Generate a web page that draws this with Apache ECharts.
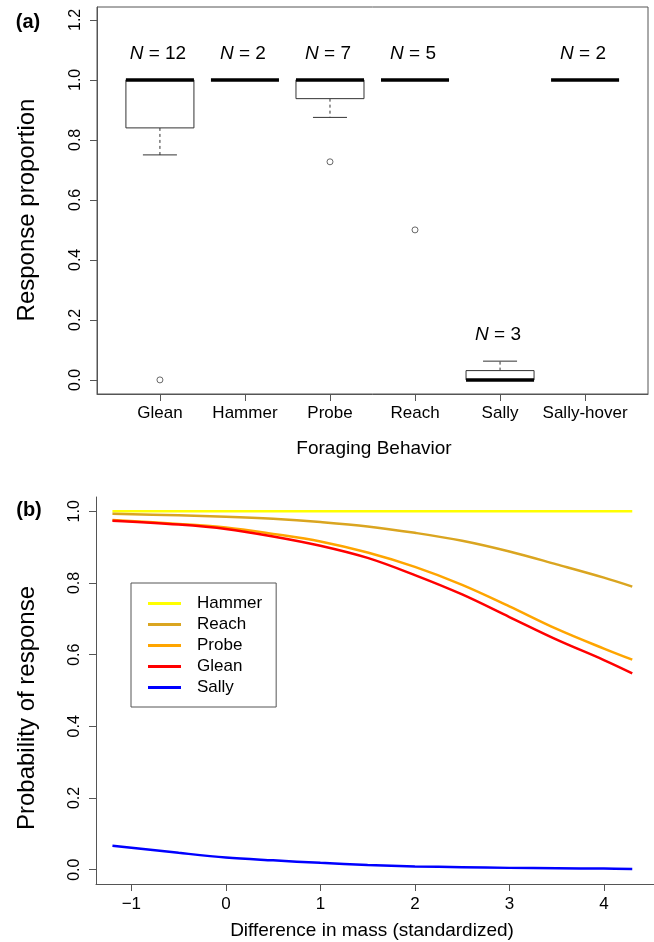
<!DOCTYPE html>
<html>
<head>
<meta charset="utf-8">
<script src="https://cdn.jsdelivr.net/npm/echarts@6/dist/echarts.min.js"></script>
<style>
html,body{margin:0;padding:0;background:#fff;}
#chart{width:654px;height:942px;}
</style>
</head>
<body>
<div id="chart"></div>
<script>
// ---------- Panel (a): box plots ----------
const categories = ['Glean', 'Hammer', 'Probe', 'Reach', 'Sally', 'Sally-hover'];
const whiskerLow = [0.75, 1, 0.875, 1, 0, 1];
const boxLow = [0.84, 1, 0.9375, 1, 0, 1];
const medians = [1, 1, 1, 1, 0, 1];
const boxHigh = [1, 1, 1, 1, 0.031, 1];
const whiskerHigh = [1, 1, 1, 1, 0.0625, 1];
const sampleSizes = [12, 2, 7, 5, 3, 2];
const outlierCategory = ['Glean', 'Probe', 'Reach'];
const outlierValue = [0, 0.727, 0.5];
const ticksA = [0, 0.2, 0.4, 0.6, 0.8, 1.0, 1.2];

// ---------- Panel (b): fitted curves ----------
const massDiff = [-1.2, -0.5, 0, 0.5, 1, 1.5, 2, 2.5, 3, 3.5, 4, 4.3];
const hammer = [1, 1, 1, 1, 1, 1, 1, 1, 1, 1, 1, 1];
const reach = [0.993, 0.989, 0.985, 0.979, 0.970, 0.958, 0.940, 0.918, 0.888, 0.852, 0.815, 0.790];
const probe = [0.976, 0.965, 0.955, 0.937, 0.916, 0.885, 0.845, 0.795, 0.735, 0.672, 0.617, 0.586];
const glean = [0.974, 0.963, 0.951, 0.930, 0.904, 0.870, 0.822, 0.768, 0.705, 0.642, 0.585, 0.548];
const sally = [0.067, 0.047, 0.034, 0.026, 0.019, 0.013, 0.009, 0.007, 0.005, 0.004, 0.003, 0.002];
const ticksBx = [-1, 0, 1, 2, 3, 4];
const ticksBy = [0, 0.2, 0.4, 0.6, 0.8, 1.0];

const FONT = '"Liberation Sans", Arial, Helvetica, sans-serif';

const boxData = categories.map((c, i) => [i + 1, whiskerLow[i], boxLow[i], medians[i], boxHigh[i], whiskerHigh[i], sampleSizes[i]]);
const outlierData = outlierCategory.map((c, i) => [categories.indexOf(c) + 1, outlierValue[i]]);

function renderBox(params, api) {
  const x = api.value(0);
  const lo = api.value(1), q1 = api.value(2), med = api.value(3), q3 = api.value(4), hi = api.value(5), n = api.value(6);
  const bw = api.size([0.8, 0])[0];
  const cx = api.coord([x, 0])[0];
  const y = v => api.coord([x, v])[1];
  const children = [];
  const lineStyle = {stroke: '#333', lineWidth: 1, fill: null};
  if (lo < q1) {
    children.push({type: 'line', shape: {x1: cx, y1: y(q1), x2: cx, y2: y(lo)}, style: Object.assign({}, lineStyle, {lineDash: [3, 3]})});
    children.push({type: 'line', shape: {x1: cx - bw / 4, y1: y(lo), x2: cx + bw / 4, y2: y(lo)}, style: lineStyle});
  }
  if (hi > q3) {
    children.push({type: 'line', shape: {x1: cx, y1: y(q3), x2: cx, y2: y(hi)}, style: Object.assign({}, lineStyle, {lineDash: [3, 3]})});
    children.push({type: 'line', shape: {x1: cx - bw / 4, y1: y(hi), x2: cx + bw / 4, y2: y(hi)}, style: lineStyle});
  }
  if (q3 > q1) {
    children.push({type: 'rect', shape: {x: cx - bw / 2, y: y(q3), width: bw, height: y(q1) - y(q3)}, style: {fill: '#fff', stroke: '#333', lineWidth: 1}});
  }
  children.push({type: 'line', shape: {x1: cx - bw / 2, y1: y(med), x2: cx + bw / 2, y2: y(med)}, style: {stroke: '#000', lineWidth: 3.5}});
  children.push({type: 'text', x: cx - 2, y: y(hi) - 26, style: {
    text: '{i|N} = ' + n,
    rich: {i: {fontStyle: 'italic', fontSize: 19, fontFamily: FONT, fill: '#000'}},
    fontSize: 19, fontFamily: FONT, fill: '#000',
    align: 'center', verticalAlign: 'middle'
  }});
  return {type: 'group', children: children};
}

const chart = echarts.init(document.getElementById('chart'), null, {renderer: 'canvas'});
const option = {
  animation: false,
  backgroundColor: '#fff',
  textStyle: {fontFamily: FONT},
  grid: [
    {left: 97, top: 7, width: 551, height: 387, show: true, borderColor: '#555', borderWidth: 1, backgroundColor: 'transparent'},
    {left: 96, top: 497, right: 0, height: 387}
  ],
  xAxis: [
    {type: 'value', gridIndex: 0, min: 0.26, max: 6.74, position: 'bottom',
      splitLine: {show: false}, axisLine: {show: true, onZero: false, lineStyle: {color: '#555'}},
      axisTick: {show: true, inside: false, length: 7, lineStyle: {color: '#555'}, customValues: [1, 2, 3, 4, 5, 6]},
      axisLabel: {customValues: [1, 2, 3, 4, 5, 6], formatter: v => categories[Math.round(v) - 1] || '', fontSize: 17, color: '#000', margin: 11, fontFamily: FONT}
    },
    {type: 'value', gridIndex: 1, min: -1.374, max: 4.53, position: 'bottom',
      splitLine: {show: false}, axisLine: {show: true, onZero: false, lineStyle: {color: '#555'}},
      axisTick: {show: true, length: 7, lineStyle: {color: '#555'}, customValues: ticksBx},
      axisLabel: {customValues: ticksBx, formatter: v => (v < 0 ? '\u2212' + Math.abs(v) : String(v)), fontSize: 17, color: '#000', margin: 12, fontFamily: FONT}
    }
  ],
  yAxis: [
    {type: 'value', gridIndex: 0, min: -0.047, max: 1.243, position: 'left',
      splitLine: {show: false}, axisLine: {show: true, onZero: false, lineStyle: {color: '#555'}},
      axisTick: {show: true, length: 7, lineStyle: {color: '#555'}, customValues: ticksA},
      axisLabel: {customValues: ticksA, formatter: v => v.toFixed(1), rotate: 90, fontSize: 16, color: '#000', margin: 13, fontFamily: FONT}
    },
    {type: 'value', gridIndex: 1, min: -0.04, max: 1.04, position: 'left',
      splitLine: {show: false}, axisLine: {show: true, onZero: false, lineStyle: {color: '#555'}},
      axisTick: {show: true, length: 7, lineStyle: {color: '#555'}, customValues: ticksBy},
      axisLabel: {customValues: ticksBy, formatter: v => v.toFixed(1), rotate: 90, fontSize: 16, color: '#000', margin: 13, fontFamily: FONT}
    }
  ],
  legend: {
    data: ['Hammer', 'Reach', 'Probe', 'Glean', 'Sally'],
    orient: 'vertical', left: 131, top: 583,
    padding: [12, 14, 11, 17],
    itemGap: 4, itemWidth: 33, itemHeight: 3, icon: 'rect',
    borderColor: '#555', borderWidth: 1, backgroundColor: '#fff',
    selectedMode: false,
    textStyle: {fontSize: 17, lineHeight: 17, color: '#000', fontFamily: FONT, padding: [0, 0, 0, 11]}
  },
  series: [
    {type: 'custom', name: 'box', xAxisIndex: 0, yAxisIndex: 0, data: boxData, renderItem: renderBox, silent: true, z: 3},
    {type: 'scatter', name: 'outliers', xAxisIndex: 0, yAxisIndex: 0, data: outlierData, symbol: 'circle', symbolSize: 6,
      itemStyle: {color: '#fff', borderColor: '#444', borderWidth: 1}, silent: true, z: 4},
    {type: 'line', name: 'Hammer', xAxisIndex: 1, yAxisIndex: 1, data: massDiff.map((x, i) => [x, hammer[i]]), showSymbol: false, smooth: 0.35, color: '#ffff00', lineStyle: {width: 2.5, color: '#ffff00'}},
    {type: 'line', name: 'Reach', xAxisIndex: 1, yAxisIndex: 1, data: massDiff.map((x, i) => [x, reach[i]]), showSymbol: false, smooth: 0.35, color: '#daa520', lineStyle: {width: 2.5, color: '#daa520'}},
    {type: 'line', name: 'Probe', xAxisIndex: 1, yAxisIndex: 1, data: massDiff.map((x, i) => [x, probe[i]]), showSymbol: false, smooth: 0.35, color: '#ffa500', lineStyle: {width: 2.5, color: '#ffa500'}},
    {type: 'line', name: 'Glean', xAxisIndex: 1, yAxisIndex: 1, data: massDiff.map((x, i) => [x, glean[i]]), showSymbol: false, smooth: 0.35, color: '#ff0000', lineStyle: {width: 2.5, color: '#ff0000'}},
    {type: 'line', name: 'Sally', xAxisIndex: 1, yAxisIndex: 1, data: massDiff.map((x, i) => [x, sally[i]]), showSymbol: false, smooth: 0.35, color: '#0000ff', lineStyle: {width: 2.5, color: '#0000ff'}}
  ],
  graphic: [
    {type: 'text', x: 28, y: 22, style: {text: '(a)', font: 'bold 20px ' + FONT, fill: '#000', align: 'center', verticalAlign: 'middle'}},
    {type: 'text', x: 29, y: 510, style: {text: '(b)', font: 'bold 20px ' + FONT, fill: '#000', align: 'center', verticalAlign: 'middle'}},
    {type: 'text', x: 27, y: 210, rotation: Math.PI / 2, style: {text: 'Response proportion', font: '24px ' + FONT, fill: '#000', align: 'center', verticalAlign: 'middle'}},
    {type: 'text', x: 27, y: 708, rotation: Math.PI / 2, style: {text: 'Probability of response', font: '24px ' + FONT, fill: '#000', align: 'center', verticalAlign: 'middle'}},
    {type: 'text', x: 374, y: 449, style: {text: 'Foraging Behavior', font: '19px ' + FONT, fill: '#000', align: 'center', verticalAlign: 'middle'}},
    {type: 'text', x: 372, y: 931, style: {text: 'Difference in mass (standardized)', font: '19px ' + FONT, fill: '#000', align: 'center', verticalAlign: 'middle'}}
  ]
};
chart.setOption(option);
</script>
</body>
</html>
